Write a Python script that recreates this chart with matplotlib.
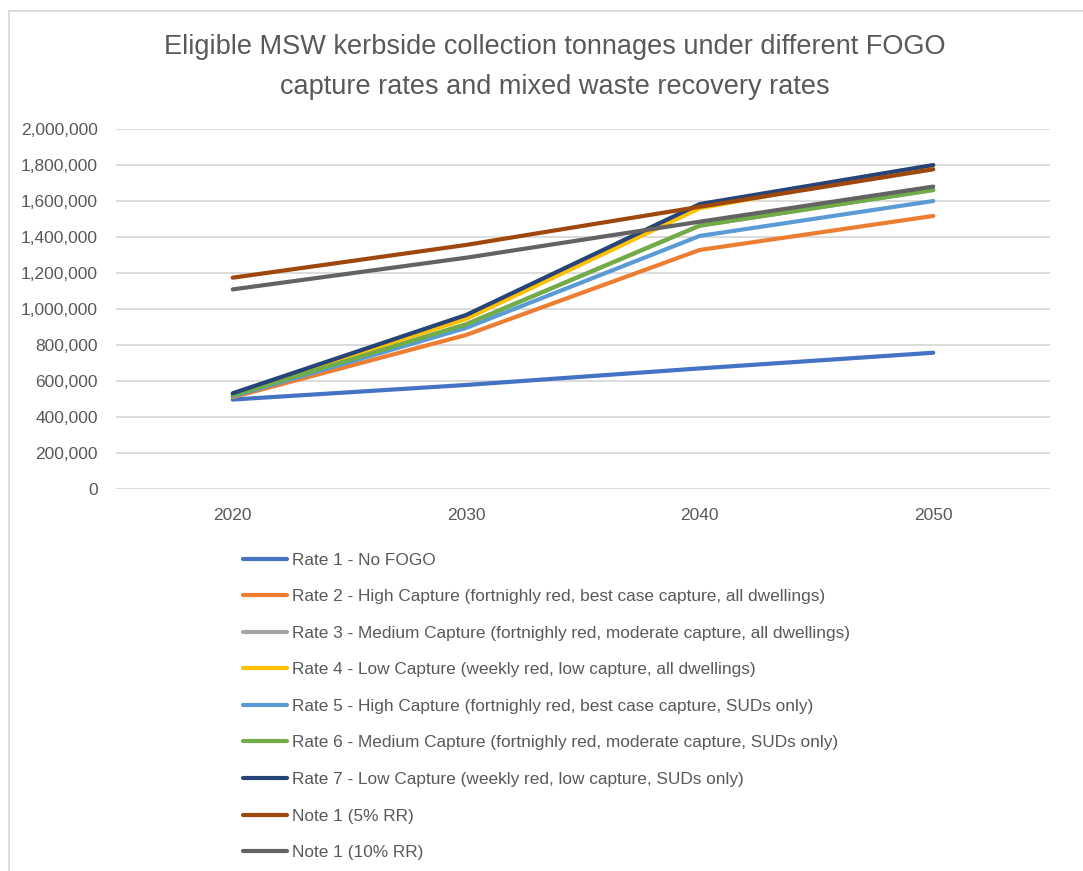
import matplotlib
matplotlib.use("Agg")
import matplotlib.pyplot as plt
from matplotlib.ticker import FuncFormatter
from matplotlib.patches import Rectangle

years = ["2020", "2030", "2040", "2050"]

rate1 = [497000, 578000, 670000, 757000]
rate2 = [510000, 856000, 1328000, 1517000]
rate3 = [520000, 915000, 1463000, 1661000]
rate4 = [527000, 945000, 1560000, 1795000]
rate5 = [515000, 895000, 1406000, 1600000]
rate6 = [520000, 915000, 1463000, 1661000]
rate7 = [532000, 967000, 1583000, 1800000]
note5 = [1174000, 1356000, 1568000, 1776000]
note10 = [1109000, 1285000, 1485000, 1680000]

labels = [
    "Rate 1 - No FOGO",
    "Rate 2 - High Capture (fortnighly red, best case capture, all dwellings)",
    "Rate 3 - Medium Capture (fortnighly red, moderate capture, all dwellings)",
    "Rate 4 - Low Capture (weekly red, low capture, all dwellings)",
    "Rate 5 - High Capture (fortnighly red, best case capture, SUDs only)",
    "Rate 6 - Medium Capture (fortnighly red, moderate capture, SUDs only)",
    "Rate 7 - Low Capture (weekly red, low capture, SUDs only)",
    "Note 1 (5% RR)",
    "Note 1 (10% RR)",
]
series = [rate1, rate2, rate3, rate4, rate5, rate6, rate7, note5, note10]
colors = ["#4472C4", "#ED7D31", "#A5A5A5", "#FFC000", "#5B9BD5",
          "#70AD47", "#264478", "#9E480E", "#636363"]

title = ("Eligible MSW kerbside collection tonnages under different FOGO\n"
         "capture rates and mixed waste recovery rates")

plt.rcParams['font.family'] = ['Liberation Sans', 'DejaVu Sans']
txt = "#595959"

fig = plt.figure(figsize=(10.83, 8.71), dpi=100)
W, H = 1083, 871
ax = fig.add_axes([116 / W, 1 - 489 / H, (1050 - 116) / W, (489 - 129) / H])

x = list(range(len(years)))
for vals, lab, c in zip(series, labels, colors):
    ax.plot(x, vals, color=c, lw=3.0, label=lab, solid_capstyle='round',
            solid_joinstyle='round')

ax.set_xlim(-0.5, 3.5)
ax.set_ylim(0, 2000000)
ax.set_yticks(range(0, 2000001, 200000))
ax.yaxis.set_major_formatter(FuncFormatter(lambda v, p: f"{int(v):,}"))
ax.set_xticks(x)
ax.set_xticklabels(years)
ax.grid(axis='y', color="#D9D9D9", lw=1.3)
ax.set_axisbelow(True)
for s in ax.spines.values():
    s.set_visible(False)
ax.tick_params(axis='both', length=0, colors=txt, labelsize=12.5)
ax.tick_params(axis='y', pad=13)
ax.tick_params(axis='x', pad=14)

fig.text(555 / W, 1 - 67 / H, title, ha='center', va='center', fontsize=19.5,
         color=txt, linespacing=1.68)

handles, labs = ax.get_legend_handles_labels()
leg = fig.legend(handles, labs, loc='upper left',
                 bbox_to_anchor=(227 / W, 1 - 537 / H), frameon=False,
                 fontsize=12.4, labelcolor=txt, handlelength=2.6,
                 handletextpad=0.25, labelspacing=1.25)

fig.patches.append(Rectangle((9 / W, -0.1), 1.2, (1 - 11 / H) + 0.1,
                             transform=fig.transFigure, fill=False,
                             edgecolor="#D9D9D9", lw=1.3))

fig.savefig("out.png", dpi=100, facecolor="white")
